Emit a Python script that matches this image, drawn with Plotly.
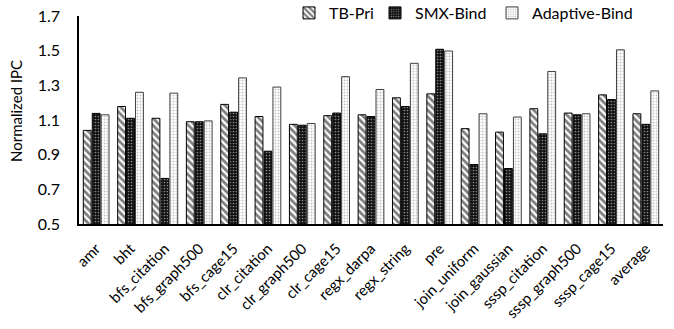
import plotly.graph_objects as go

categories = ["amr", "bht", "bfs_citation", "bfs_graph500", "bfs_cage15", "clr_citation",
              "clr_graph500", "clr_cage15", "regx_darpa", "regx_string", "pre", "join_uniform",
              "join_gaussian", "sssp_citation", "sssp_graph500", "sssp_cage15", "average"]
tb_pri = [1.04, 1.178, 1.11, 1.09, 1.19, 1.12, 1.075, 1.125, 1.13, 1.228, 1.251, 1.05,
          1.03, 1.165, 1.14, 1.245, 1.136]
smx_bind = [1.138, 1.11, 0.763, 1.09, 1.145, 0.92, 1.07, 1.14, 1.12, 1.178, 1.508, 0.843,
            0.82, 1.02, 1.13, 1.218, 1.075]
adaptive_bind = [1.13, 1.26, 1.255, 1.095, 1.343, 1.29, 1.08, 1.35, 1.276, 1.427, 1.498, 1.136,
                 1.117, 1.38, 1.136, 1.505, 1.268]
y_ticks = [0.5, 0.7, 0.9, 1.1, 1.3, 1.5, 1.7]

FONT = "Lato"
W, H = 674, 329
ML, MR, MT, MB = 79, 11, 16, 105
PW = W - ML - MR
PH = H - MT - MB


def px_x(p):
    return (p - ML) / PW


def px_y(p):
    return (H - MB - p) / PH


fig = go.Figure()
fig.add_trace(go.Bar(
    name="TB-Pri", x=categories, y=tb_pri, legend="legend",
    marker=dict(color="white", line=dict(color="black", width=1),
                pattern=dict(shape="\\", size=5, solidity=0.55, fgcolor="black", bgcolor="white")),
))
fig.add_trace(go.Bar(
    name="SMX-Bind", x=categories, y=smx_bind, legend="legend2",
    marker=dict(color="#111111", line=dict(color="black", width=1),
                pattern=dict(shape=".", size=3, solidity=0.25, fgcolor="white", bgcolor="#111111")),
))
fig.add_trace(go.Bar(
    name="Adaptive-Bind", x=categories, y=adaptive_bind, legend="legend3",
    marker=dict(color="white", line=dict(color="#404040", width=1),
                pattern=dict(shape=".", size=3, solidity=0.35, fgcolor="#909090", bgcolor="white")),
))

leg_common = dict(orientation="h", yanchor="middle", xanchor="left", y=px_y(13),
                  font=dict(family=FONT, size=16, color="black"),
                  bgcolor="rgba(0,0,0,0)", itemwidth=30)

fig.update_layout(
    width=W, height=H,
    margin=dict(l=ML, r=MR, t=MT, b=MB, autoexpand=False),
    paper_bgcolor="white", plot_bgcolor="white",
    barmode="group", bargap=0.22, bargroupgap=0.12,
    font=dict(family=FONT, size=15, color="black"),
    showlegend=True,
    legend=dict(x=px_x(327 - 38), **leg_common),
    legend2=dict(x=px_x(414 - 39), **leg_common),
    legend3=dict(x=px_x(530 - 38), **leg_common),
)
fig.add_annotation(
    text="Normalized IPC", textangle=-90, xref="paper", yref="paper",
    x=px_x(16), y=px_y(111), xanchor="center", yanchor="middle", showarrow=False,
    font=dict(family=FONT, size=15, color="black"),
)
fig.update_xaxes(
    tickangle=-45, showline=True, linecolor="black", linewidth=2,
    ticks="", showgrid=False, ticklabelstandoff=8,
    tickfont=dict(family=FONT, size=15, color="black"),
)
fig.update_yaxes(
    range=[0.5, 1.7], tickvals=y_ticks, ticktext=[f"{v:.1f}" for v in y_ticks],
    showline=True, linecolor="black", linewidth=1.5, showgrid=False, zeroline=False,
    ticks="", ticklabelstandoff=14, tickfont=dict(family=FONT, size=16, color="black"),
)

fig.write_html("out.html")
